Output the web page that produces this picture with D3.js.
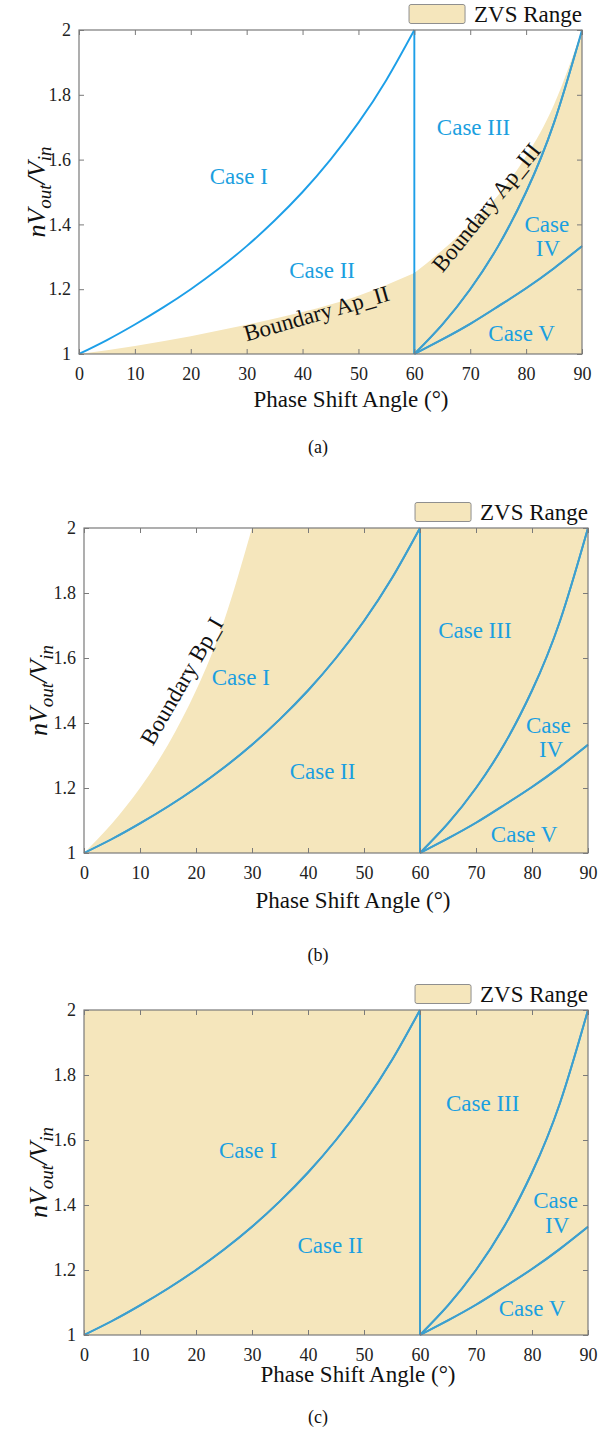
<!DOCTYPE html>
<html>
<head>
<meta charset="utf-8">
<script src="https://cdn.jsdelivr.net/npm/d3@7"></script>
<style>
body { margin: 0; background: #fff; }
svg { display: block; font-family: "Liberation Serif", "Times New Roman", serif; }
</style>
</head>
<body>
<svg id="fig" width="615" height="1431"></svg>
<script>
'use strict';

// axis ticks
const angleTicks = [0, 10, 20, 30, 40, 50, 60, 70, 80, 90];
const ratioTicks = [1, 1.2, 1.4, 1.6, 1.8, 2];

// operating-mode borders (phase shift angle in deg, nVout/Vin)
const borderI_II_phi = [0, 5, 10, 15, 20, 25, 30, 35, 40, 45, 50, 55, 60];
const borderI_II_val = [1.000, 1.043, 1.091, 1.143, 1.200, 1.263, 1.333, 1.412, 1.500, 1.600, 1.714, 1.846, 2.000];
const border60_phi = [60, 60];
const border60_val = [1.00, 2.00];
const borderIII_IV_phi = [60, 65, 70, 75, 80, 85, 90];
const borderIII_IV_val = [1.000, 1.091, 1.200, 1.333, 1.500, 1.714, 2.000];
const borderIV_V_phi = [60, 65, 70, 75, 80, 85, 90];
const borderIV_V_val = [1.000, 1.045, 1.093, 1.147, 1.203, 1.265, 1.333];

// ZVS boundaries
const apII_phi = [0, 10, 20, 30, 40, 50, 60];
const apII_val = [1.000, 1.025, 1.055, 1.090, 1.130, 1.180, 1.250];
const apIII_phi = [60, 65, 70, 75, 80, 85, 90];
const apIII_val = [1.250, 1.320, 1.400, 1.490, 1.610, 1.770, 2.000];
const bpI_phi = [0, 5, 10, 15, 20, 25, 30];
const bpI_val = [1.000, 1.091, 1.200, 1.333, 1.500, 1.714, 2.000];

// text annotations, placed in data units
const labelsA = [
	{ t: "Case I", phi: 28.6, v: 1.55 },
	{ t: "Case II", phi: 43.5, v: 1.26 },
	{ t: "Case III", phi: 70.6, v: 1.70 },
	{ t: "Case", phi: 83.7, v: 1.40 },
	{ t: "IV", phi: 83.9, v: 1.327 },
	{ t: "Case V", phi: 79.2, v: 1.065 }
];
const labelsB = [
	{ t: "Case I", phi: 28.0, v: 1.543 },
	{ t: "Case II", phi: 42.6, v: 1.253 },
	{ t: "Case III", phi: 69.8, v: 1.687 },
	{ t: "Case", phi: 82.9, v: 1.395 },
	{ t: "IV", phi: 83.4, v: 1.32 },
	{ t: "Case V", phi: 78.6, v: 1.06 }
];
const labelsC = [
	{ t: "Case I", phi: 29.3, v: 1.569 },
	{ t: "Case II", phi: 44.0, v: 1.277 },
	{ t: "Case III", phi: 71.2, v: 1.713 },
	{ t: "Case", phi: 84.2, v: 1.415 },
	{ t: "IV", phi: 84.5, v: 1.34 },
	{ t: "Case V", phi: 80.0, v: 1.084 }
];
const boundLabelsA = [
	{ t: "Boundary Ap_II", phi: 42.5, v: 1.126, rot: -16 },
	{ t: "Boundary Ap_III", phi: 72.8, v: 1.453, rot: -51 }
];
const boundLabelsB = [
	{ t: "Boundary Bp_I", phi: 17.4, v: 1.529, rot: -60 }
];

const SERIF = "'Liberation Serif', 'Times New Roman', serif";
const FILL = "#f5e6bc";
const BLUE = "#1d9fe8";
const BLUE_IN = "#3f9fcc";
const TXT_BLUE = "#1b9fe0";
const AXIS = "#7a7a7a";

const svg = d3.select("#fig");

function zip(a, b) { return a.map(function(v, i) { return [v, b[i]]; }); }

let borders = [
	{ pts: zip(borderI_II_phi, borderI_II_val), curve: d3.curveNatural },
	{ pts: zip(border60_phi, border60_val), curve: d3.curveLinear },
	{ pts: zip(borderIII_IV_phi, borderIII_IV_val), curve: d3.curveNatural },
	{ pts: zip(borderIV_V_phi, borderIV_V_val), curve: d3.curveNatural }
];

let panels = [
	{ id: "a", left: 79, top: 30, w: 503, h: 324, zvs: "a", labels: labelsA, bounds: boundLabelsA,
	  ylx: 45, titleX: 351, tickDy: 13, titleDy: 45, capDy: 93 },
	{ id: "b", left: 84, top: 528, w: 504, h: 325, zvs: "b", labels: labelsB, bounds: boundLabelsB,
	  ylx: 47, titleX: 353, tickDy: 13, titleDy: 47, capDy: 102 },
	{ id: "c", left: 84, top: 1010, w: 504, h: 325, zvs: "c", labels: labelsC, bounds: [],
	  ylx: 47, titleX: 358, tickDy: 13, titleDy: 39, capDy: 82 }
];

function drawPanel(p){
	let x = d3.scaleLinear().domain([0, 90]).range([0, p.w]);
	let y = d3.scaleLinear().domain([1, 2]).range([p.h, 0]);
	let g = svg.append("g").attr("transform", "translate(" + p.left + "," + p.top + ")");

	let mk = function(curve){
		return d3.line().x(function(d){ return x(d[0]); }).y(function(d){ return y(d[1]); }).curve(curve);
	};
	let smooth = mk(d3.curveNatural);
	let corner = function(a, b){ return "L" + x(a) + "," + y(b); };

	// ZVS range shape
	let fillD;
	if (p.zvs === "a"){
		fillD = smooth(zip(apII_phi, apII_val))
			+ smooth(zip(apIII_phi, apIII_val)).replace(/^M/, "L")
			+ corner(90, 1) + corner(0, 1) + "Z";
	}
	else if (p.zvs === "b"){
		fillD = smooth(zip(bpI_phi, bpI_val))
			+ corner(90, 2) + corner(90, 1) + corner(0, 1) + "Z";
	}
	else {
		fillD = "M" + x(0) + "," + y(1) + corner(0, 2) + corner(90, 2) + corner(90, 1) + "Z";
	}

	g.append("path").attr("d", fillD).attr("fill", FILL);

	let clipId = "zvs-" + p.id;
	g.append("clipPath").attr("id", clipId).append("path").attr("d", fillD);

	// borders: bright on white, a bit duller inside the ZVS range
	borders.forEach(function(b){
		g.append("path").attr("d", mk(b.curve)(b.pts))
			.attr("fill", "none").attr("stroke", BLUE).attr("stroke-width", 1.9);
	});
	let inner = g.append("g").attr("clip-path", "url(#" + clipId + ")");
	borders.forEach(function(b){
		inner.append("path").attr("d", mk(b.curve)(b.pts))
			.attr("fill", "none").attr("stroke", BLUE_IN).attr("stroke-width", 1.9);
	});

	// axes, ticks inward on all four sides
	let styleAxis = function(sel){
		sel.attr("font-family", SERIF).attr("font-size", 18);
		sel.select(".domain").remove();
		sel.selectAll(".tick line").attr("stroke", AXIS);
		sel.selectAll(".tick text").attr("fill", "#222").attr("font-family", SERIF)
			.style("font-family", SERIF).style("font-size", "18px");
	};
	g.append("g").attr("transform", "translate(0," + p.h + ")")
		.call(d3.axisBottom(x).tickValues(angleTicks).tickSize(-5).tickPadding(p.tickDy))
		.call(styleAxis);
	g.append("g")
		.call(d3.axisTop(x).tickValues(angleTicks).tickSize(-5).tickFormat(""))
		.call(styleAxis);
	g.append("g")
		.call(d3.axisLeft(y).tickValues(ratioTicks).tickSize(-5).tickPadding(8).tickFormat(function(d){ return String(d); }))
		.call(styleAxis);
	g.append("g").attr("transform", "translate(" + p.w + ",0)")
		.call(d3.axisRight(y).tickValues(ratioTicks).tickSize(-5).tickFormat(""))
		.call(styleAxis);

	g.append("rect").attr("width", p.w).attr("height", p.h)
		.attr("fill", "none").attr("stroke", AXIS).attr("stroke-width", 1.2);

	// case labels
	g.selectAll(".case").data(p.labels).enter().append("text")
		.attr("class", "case")
		.attr("x", function(d){ return x(d.phi); })
		.attr("y", function(d){ return y(d.v); })
		.attr("dy", "0.35em")
		.attr("text-anchor", "middle")
		.attr("fill", TXT_BLUE)
		.attr("font-family", SERIF)
		.style("font-size", "23px")
		.text(function(d){ return d.t; });

	g.selectAll(".bound").data(p.bounds).enter().append("text")
		.attr("class", "bound")
		.attr("transform", function(d){ return "translate(" + x(d.phi) + "," + y(d.v) + ") rotate(" + d.rot + ")"; })
		.attr("dy", "0.35em")
		.attr("text-anchor", "middle")
		.attr("fill", "#111")
		.attr("font-family", SERIF)
		.style("font-size", "23px")
		.text(function(d){ return d.t; });

	// legend
	let leg = g.append("g").attr("transform", "translate(" + p.w + ",-16)");
	let legText = leg.append("text").attr("text-anchor", "end").attr("dy", "0.35em")
		.attr("fill", "#111").attr("font-family", SERIF).style("font-size", "23px").text("ZVS Range");
	let tw = legText.node().getComputedTextLength();
	leg.append("rect").attr("x", -tw - 65).attr("y", -9.5).attr("width", 56).attr("height", 19)
		.attr("rx", 2).attr("fill", FILL).attr("stroke", "#8f8f8f").attr("stroke-width", 1);

	// axis titles
	let yl = svg.append("text")
		.attr("transform", "translate(" + p.ylx + "," + (p.top + p.h / 2) + ") rotate(-90)")
		.attr("text-anchor", "middle")
		.attr("fill", "#111")
		.attr("font-family", SERIF)
		.style("font-style", "italic")
		.style("font-size", "26px");
	yl.append("tspan").text("nV");
	yl.append("tspan").attr("dy", 6).style("font-size", "19px").text("out");
	yl.append("tspan").attr("dy", -6).text("/V");
	yl.append("tspan").attr("dy", 6).style("font-size", "19px").text("in");

	svg.append("text")
		.attr("x", p.titleX).attr("y", p.top + p.h + p.titleDy).attr("dy", "0.35em")
		.attr("text-anchor", "middle").attr("fill", "#111")
		.attr("font-family", SERIF).style("font-size", "23px")
		.text("Phase Shift Angle (\u00B0)");

	svg.append("text")
		.attr("x", 318).attr("y", p.top + p.h + p.capDy).attr("dy", "0.35em")
		.attr("text-anchor", "middle").attr("fill", "#111")
		.attr("font-family", SERIF).style("font-size", "18px")
		.text("(" + p.id + ")");
}

panels.forEach(drawPanel);
</script>
</body>
</html>
